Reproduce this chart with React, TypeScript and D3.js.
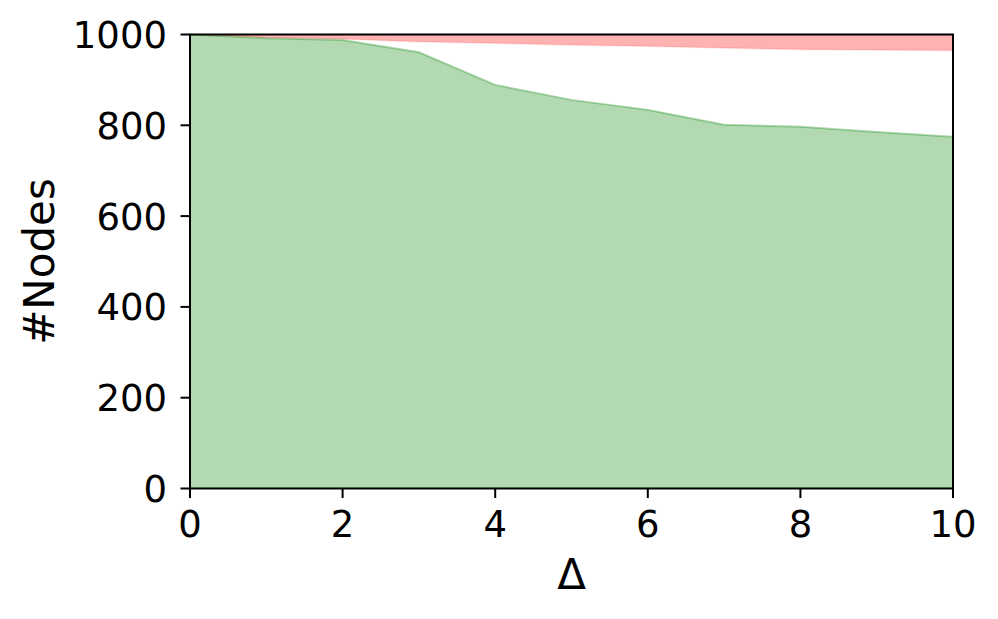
import React from "react";
import * as d3 from "d3";

const deltas = [0, 1, 2, 3, 4, 5, 6, 7, 8, 9, 10];
const greenNodes = [1000, 992, 988, 961, 889, 856, 834, 801, 797, 785, 775];
const redLower = [1000, 993, 990, 984, 981, 977, 974, 970, 967, 966, 965];
const redUpper = [1000, 1000, 1000, 1000, 1000, 1000, 1000, 1000, 1000, 1000, 1000];
const xTicks = [0, 2, 4, 6, 8, 10];
const yTicks = [0, 200, 400, 600, 800, 1000];

const W = 998;
const H = 619;
const L = 190;
const R = 953;
const T = 34.5;
const B = 488.5;

export default function App() {
  const x = d3.scaleLinear().domain([0, 10]).range([L, R]);
  const y = d3.scaleLinear().domain([0, 1000]).range([B, T]);

  const greenArea = d3
    .area<number>()
    .x((_, i) => x(deltas[i]))
    .y0(() => y(0))
    .y1((d) => y(d));
  const redArea = d3
    .area<number>()
    .x((_, i) => x(deltas[i]))
    .y0((_, i) => y(redLower[i]))
    .y1((d) => y(d));

  const font = "DejaVu Sans";
  return (
    <svg width={W} height={H} style={{ position: "absolute", left: 0, top: 0 }}>
      <rect x={0} y={0} width={W} height={H} fill="#fff" />
      <defs>
        <clipPath id="plot">
          <rect x={L} y={T} width={R - L} height={B - T} />
        </clipPath>
      </defs>
      <g clipPath="url(#plot)">
        <path
          d={redArea(redUpper) || ""}
          fill="rgba(255,0,0,0.3)"
          stroke="rgba(255,0,0,0.12)"
          strokeWidth={1.5}
        />
        <path
          d={greenArea(greenNodes) || ""}
          fill="rgba(0,128,0,0.3)"
          stroke="rgba(0,128,0,0.3)"
          strokeWidth={2}
        />
      </g>
      <rect x={L} y={T} width={R - L} height={B - T} fill="none" stroke="#000" strokeWidth={2} />
      {xTicks.map((t) => (
        <g key={"x" + t}>
          <line x1={x(t)} x2={x(t)} y1={B} y2={B + 9.5} stroke="#000" strokeWidth={2} />
          <text
            x={x(t)}
            y={536.5}
            textAnchor="middle"
            fontFamily={font}
            fontSize={37}
            fill="#000"
          >
            {t}
          </text>
        </g>
      ))}
      {yTicks.map((t) => (
        <g key={"y" + t}>
          <line x1={L - 9.5} x2={L} y1={y(t)} y2={y(t)} stroke="#000" strokeWidth={2} />
          <text
            x={167}
            y={y(t) + 13.5}
            textAnchor="end"
            fontFamily={font}
            fontSize={37}
            fill="#000"
          >
            {t}
          </text>
        </g>
      ))}
      <text
        x={(L + R) / 2}
        y={589}
        textAnchor="middle"
        fontFamily={font}
        fontSize={42}
        fill="#000"
      >
        Δ
      </text>
      <text
        transform={`translate(54,${(T + B) / 2}) rotate(-90)`}
        textAnchor="middle"
        fontFamily={font}
        fontSize={42}
        fill="#000"
      >
        #Nodes
      </text>
    </svg>
  );
}
